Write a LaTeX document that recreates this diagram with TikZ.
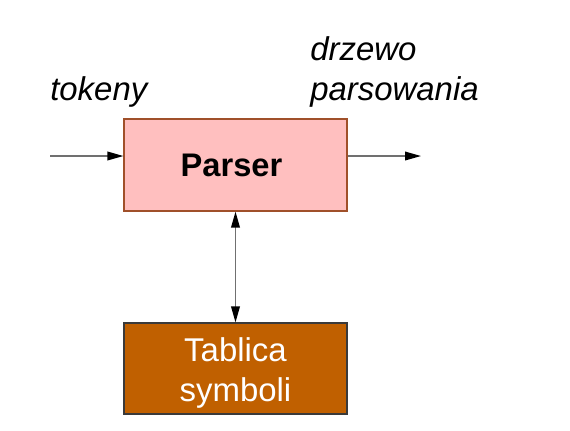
\documentclass[tikz,border=0pt]{standalone}
\usepackage{fontspec}
\setmainfont{Liberation Sans}
\usetikzlibrary{arrows.meta}
\definecolor{pfill}{HTML}{FFBFBF}
\definecolor{pdraw}{HTML}{A0502A}
\definecolor{tfill}{HTML}{C06000}
\definecolor{tdraw}{HTML}{3A3A3A}
\definecolor{lgray}{HTML}{707070}
\tikzset{
  boxp/.style={draw=pdraw, fill=pfill, line width=0.9pt, minimum width=223*0.75pt, minimum height=92*0.75pt, inner sep=0pt, font=\fontsize{24.5}{30}\selectfont\bfseries},
  boxt/.style={draw=tdraw, fill=tfill, line width=0.9pt, minimum width=223*0.75pt, minimum height=91*0.75pt, inner sep=0pt, text=white, align=center, font=\fontsize{24.7}{30}\selectfont},
  tip/.tip={Triangle[length=12pt,width=6.5pt,color=black]},
  conn/.style={draw=lgray, line width=1.1pt, -tip},
  conn2/.style={draw=lgray, line width=1.1pt, tip-tip},
  lab/.style={font=\fontsize{24.7}{30}\selectfont\itshape, anchor=base west, inner sep=0pt}
}
\begin{document}
\begin{tikzpicture}[x=0.75pt,y=-0.75pt]
\useasboundingbox (0,0) rectangle (570,430);
\node[boxp] (parser) at (235.5,165) {\hspace*{-6pt}Parser};
\node[boxt] (tab) at (235.5,368.5) {\rule{0pt}{24.5pt}Tablica\\symboli};
\coordinate (in) at (50,156);
\coordinate (out) at (421,156);
\draw[conn] (in) -- (in -| parser.west);
\draw[conn] (out -| parser.east) -- (out);
\draw[conn2] (parser.south) -- (tab.north);
\node[lab] (tok) at (50,100) {tokeny};
\node[lab] (drz) at (310,60) {drzewo};
\node[lab] (par) at (310,100) {parsowania};
\end{tikzpicture}
\end{document}
